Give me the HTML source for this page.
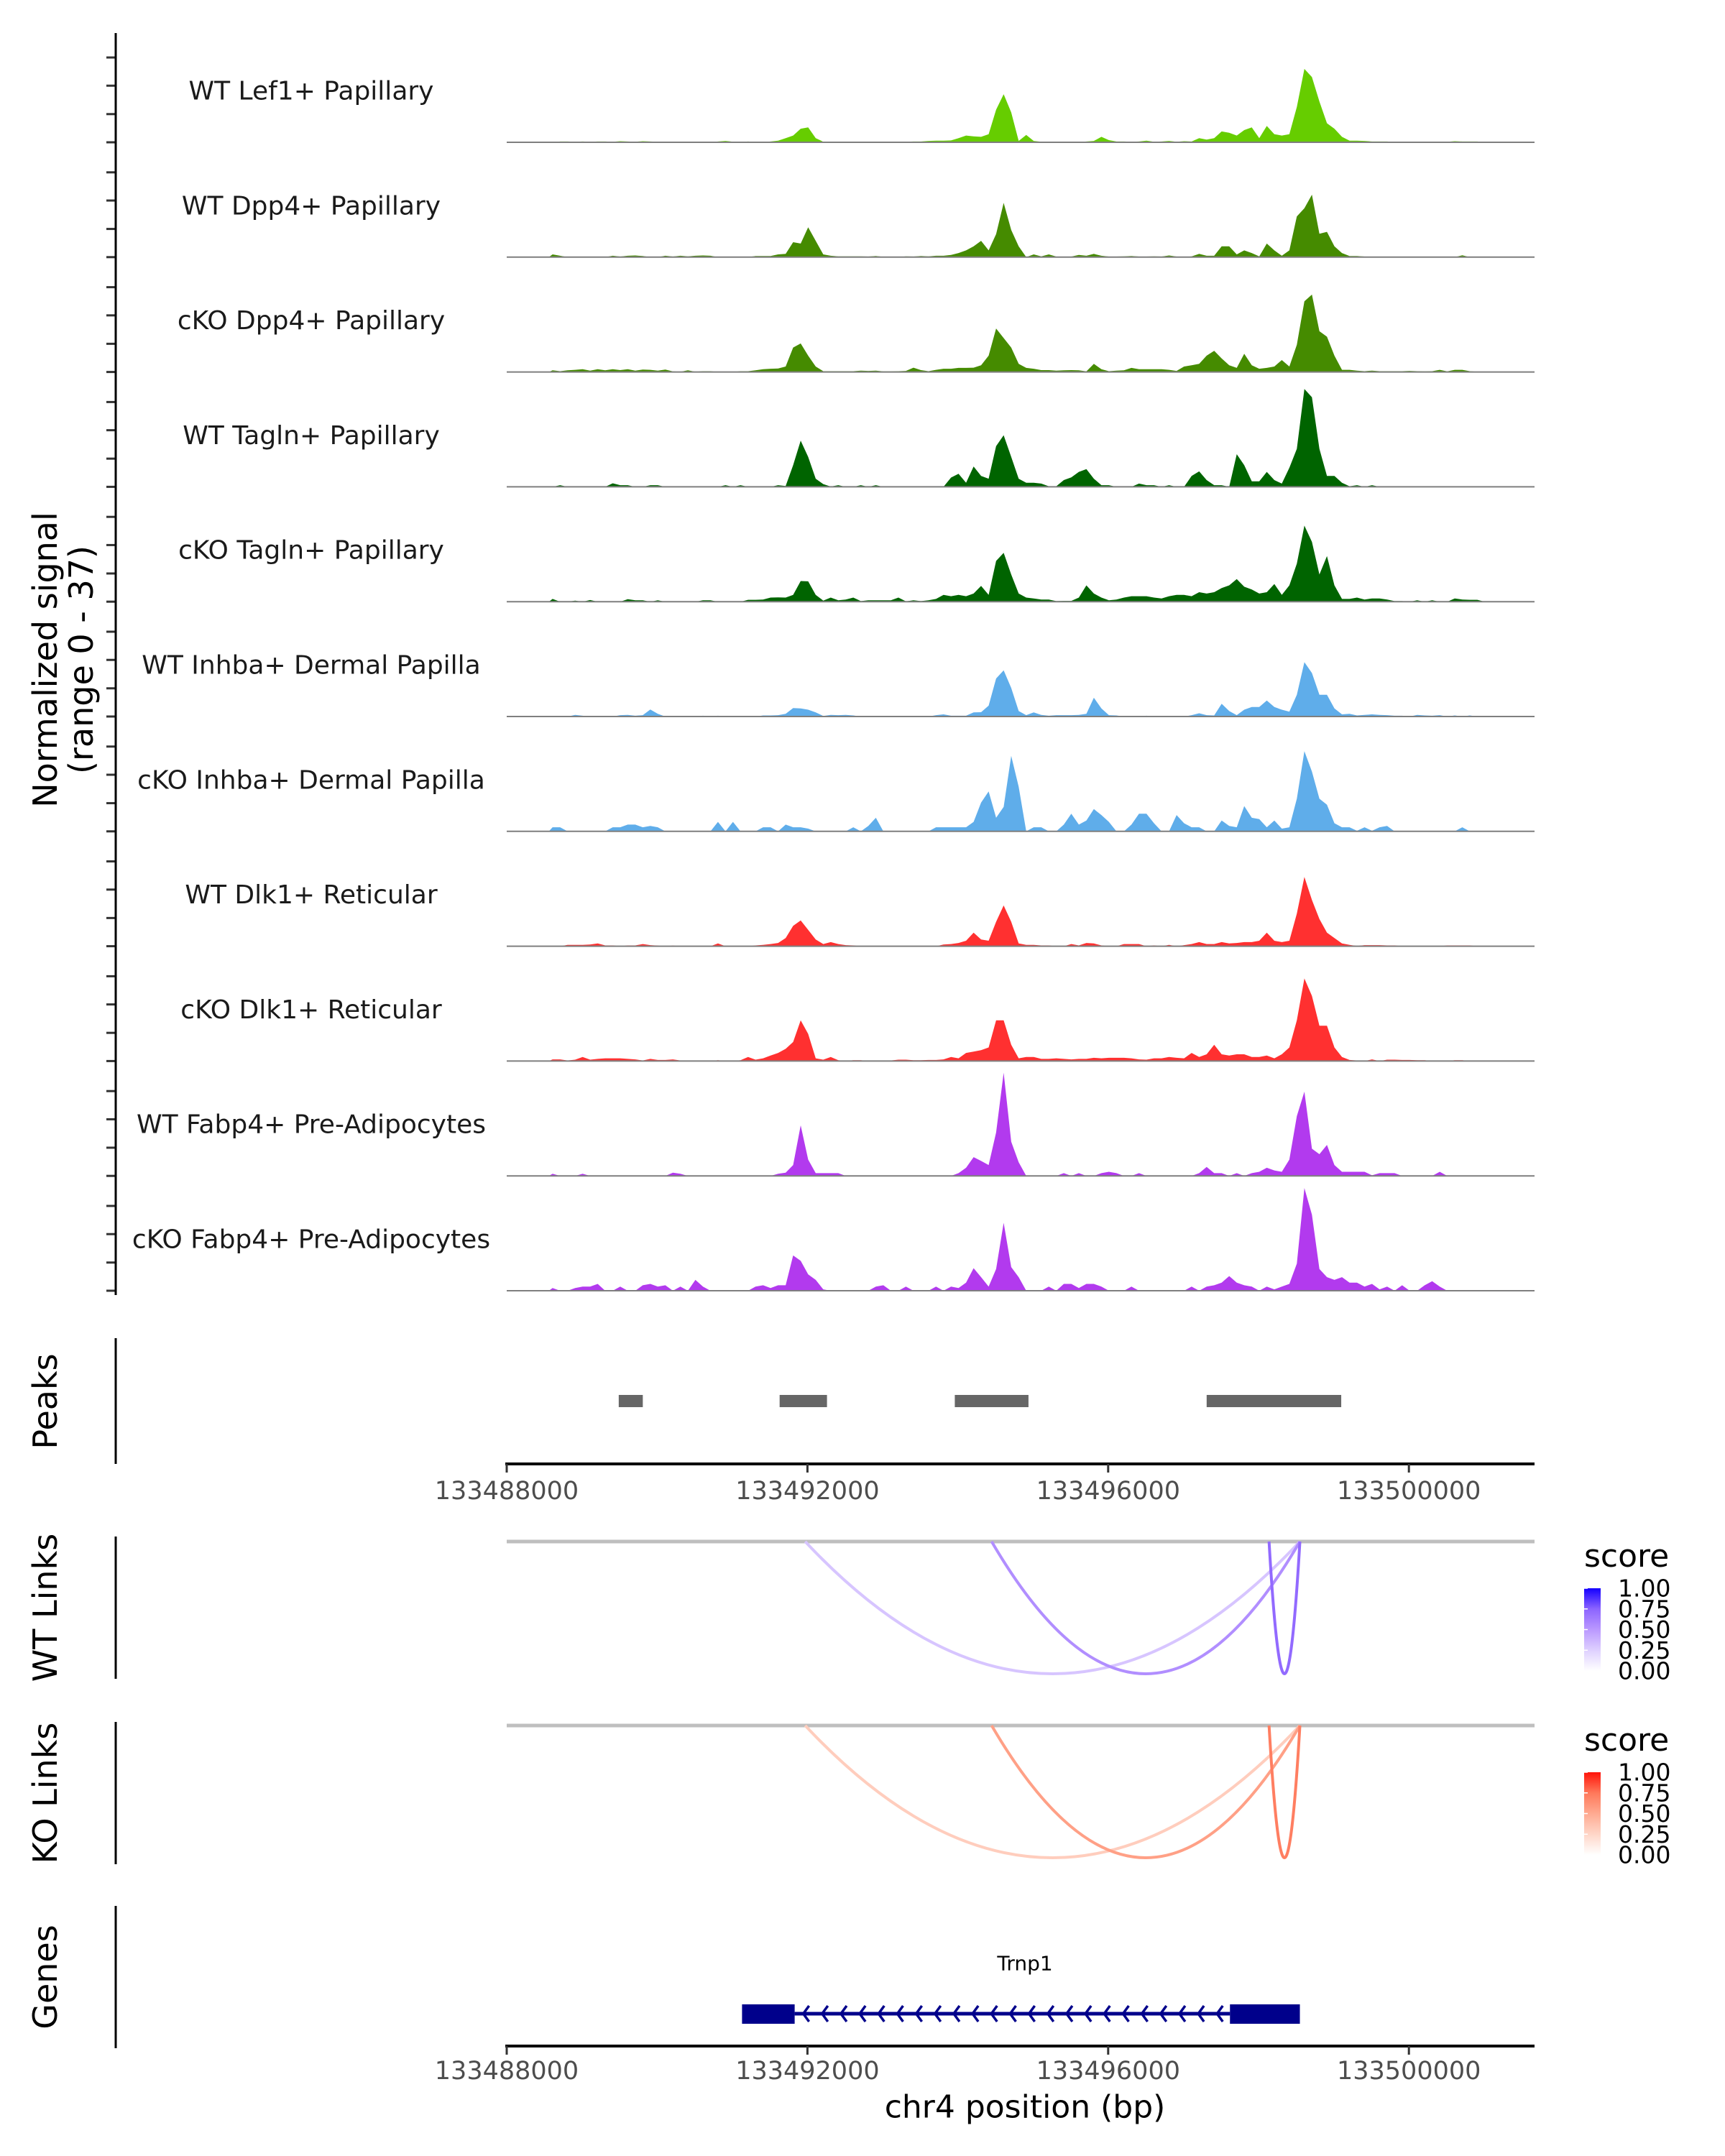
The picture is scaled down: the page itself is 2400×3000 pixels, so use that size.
<!DOCTYPE html>
<html><head><meta charset="utf-8">
<style>
html,body{margin:0;padding:0;background:#fff;}
svg{display:block;font-family:"DejaVu Sans","Liberation Sans",sans-serif;}
</style></head>
<body>
<svg id="chart" width="2400" height="3000" viewBox="0 0 2400 3000" xmlns="http://www.w3.org/2000/svg">
<rect width="2400" height="3000" fill="#fff"/>
<g id="tracks"></g>
<g id="peaks"></g>
<g id="links"></g>
<g id="genes"></g>
<g id="axes"></g>
</svg>
<script>
// ---------- data ----------
var binStart = 133488560;
var binSize = 100;
var trackNames = ["WT Lef1+ Papillary","WT Dpp4+ Papillary","cKO Dpp4+ Papillary","WT Tagln+ Papillary","cKO Tagln+ Papillary","WT Inhba+ Dermal Papilla","cKO Inhba+ Dermal Papilla","WT Dlk1+ Reticular","cKO Dlk1+ Reticular","WT Fabp4+ Pre-Adipocytes","cKO Fabp4+ Pre-Adipocytes"];
var trackColors = ["#66CD00","#458B00","#458B00","#006400","#006400","#5FADEA","#5FADEA","#FF3030","#FF3030","#B23AEE","#B23AEE"];
var sigLef1 = [0,0.3,0.3,0.2,0.3,0.2,0.3,0.3,0.2,0.4,0.3,0.2,0.4,0.3,0.2,0.1,0,0,0,0,0,0,0.3,0.5,0.2,0.1,0.3,0.1,0.1,0.3,0.6,1.5,2.5,5,5.5,1.5,0.2,0.1,0.1,0,0,0,0,0,0,0,0.2,0.2,0.3,0.3,0.5,0.6,0.6,0.7,1.5,2.5,2.2,2,3,12,17.7,11,0.5,2.7,0.5,0.2,0.2,0.1,0.2,0.2,0.1,0.3,0.5,2,0.8,0.3,0.3,0.2,0.3,0.6,0.2,0.3,0.5,0.2,0.4,0.3,1.5,1,1.5,4,3.5,2.5,4.5,5.5,1.5,6,3,2.5,3,13,27,24,15,7,5,2,0.6,0.6,0.5,0.3,0.3,0.3,0.1,0.1,0.1,0.1,0.1,0.1,0.1,0.2,0.4,0.3,0.3,0.3,0];
var sigDpp4WT = [1,0.5,0,0,0,0,0,0,0.5,0.2,0.5,0.6,0.4,0,0,0.5,0.2,0.5,0.3,0.5,0.6,0.5,0,0,0,0,0,0.4,0.4,0.4,1,1.2,5.5,5,11,6,1,0.5,0.3,0.3,0.3,0.3,0.2,0.4,0.1,0,0,0.3,0.2,0.4,0.3,0.5,0.5,0.8,1.5,2.5,4,6,2.5,8.5,20,10,4,0,1,0.3,1,0.2,0.2,0.2,0.8,0.5,1.2,0.5,0.2,0.2,0.3,0.4,0.2,0.2,0.3,0.2,0.6,0.2,0,0.3,1.2,0.5,0.5,4,4,1,2.5,1.5,0.3,5,2.5,0.5,2.5,15,18,23,8.6,9.3,4,1.5,0.4,0.4,0.2,0,0,0,0,0,0,0,0,0,0,0,0,0.7,0,0,0];
var sigDpp4KO = [0.6,0.3,0.6,0.8,1,0.5,1,0.6,1,0.7,1,0.5,0.9,0.8,0.5,0.9,0.2,0.1,0.6,0.1,0.3,0.3,0,0,0,0.3,0.3,0.6,1,1.2,1.3,2,9,10.5,6,2,0.3,0.3,0.3,0.3,0.3,0.5,0.4,0.5,0.2,0.2,0.3,0.4,1.6,0.7,0.3,0.8,1.2,1.2,1.5,1.5,1.6,2.5,6,16,12.5,9,3,1.5,1.2,0.7,0.7,0.5,0.6,0.7,0.6,0.2,3,1,0.3,0.5,0.6,1.5,1,1,1,1,0.8,0.4,2,2.5,3,6,7.8,5,2.5,1.5,6.7,2.5,1.2,1.5,2,4.4,2,10,26,28.5,15,13,6,0.8,0.8,0.5,0.3,0.5,0.3,0.3,0.3,0.3,0.4,0.3,0.2,0.3,0.8,0.2,0.8,0.8,0.3,0.1,0];
var sigTaglnWT = [0,0.6,0,0,0,0,0,0,1.3,0.6,0.6,0,0,0.6,0.6,0,0,0,0,0,0,0,0,0.6,0,0.6,0,0,0,0,0.6,0.3,8,17,11,3,1,0.1,0.6,0,0,0.6,0,0.6,0,0,0,0,0,0,0,0,0,3.4,4.8,1.5,7.5,4,3,15,19,11,3,1.5,1.5,1.2,0.2,0.2,2.5,3.5,5.5,6.5,3,0.6,0.6,0,0,0,1.2,0.6,0.6,0,0.6,0,0,4,5.7,2.5,0.6,0.6,0,12,8,2,2,5.5,2.5,1.2,7,14,36,33,14,4,4,1.5,0.2,0.6,0,0.6,0,0,0,0,0,0,0,0,0,0,0,0,0,0,0,0];
var sigTaglnKO = [1,0,0,0.4,0,0.6,0,0,0,0,0.9,0.5,0.5,0,0.5,0,0,0,0,0,0.5,0.5,0,0,0,0,0.7,0.7,0.8,1.5,1.6,1.5,2.5,7.6,7.5,2.5,0.4,1.5,0.5,0.8,1.5,0.2,0.5,0.5,0.5,0.5,1.5,0.1,0.5,0.2,0.5,1,2.5,2,2.5,2,3,5.8,2.5,15,18,10,3,1.5,1.2,0.8,0.8,0.2,0.3,0.3,1.5,6,3,1.5,0.5,0.8,1.5,2,2,2,1.5,1.2,2,2.5,2.5,2,3.5,3,3.5,5,6,8.3,5.5,4.5,3,3.5,6.5,2.5,6,14,28,22,10,16.8,6,1,1,1.5,0.8,1.2,1.2,0.8,0.2,0.2,0,0.5,0,0.5,0,0,1.2,0.8,0.7,0.7,0];
var sigInhbaWT = [0,0,0,0.6,0.3,0,0,0,0,0.5,0.6,0.3,0.5,2.6,1,0,0,0,0,0,0.3,0,0.3,0,0,0,0,0,0.4,0.4,0.5,1,3.1,3,2.5,1.5,0.2,0.6,0.5,0.6,0.4,0,0,0,0,0,0,0,0,0,0,0.5,0.8,0.3,0.3,0.3,1.5,1.6,4,14,17,10.5,2,0.5,1.5,0.6,0.3,0.5,0.5,0.5,0.6,1,6.9,3,0.5,0.4,0,0,0,0.3,0,0,0,0,0,0.5,1.2,0.5,0.4,4.7,2,0.5,2.5,3.5,3.5,5.9,3.5,2.5,1.8,8,20,16,8,8,3,0.8,1,0.4,0.6,0.8,0.6,0.5,0.3,0.3,0,0.6,0.4,0.3,0.5,0,0.4,0,0.4,0,0];
var sigInhbaKO = [1.5,1.5,0,0,0,0,0,0,1.5,1.5,2.5,2.5,1.5,2,1.5,0,0,0,0,0,0,0,3.5,0,3.5,0,0,0,1.5,1.5,0,2.5,1.5,1.5,1,0,0,0,0,0,1.5,0,2,5,0,0,0,0,0,0,0,1.5,1.5,1.5,1.5,1.5,3.5,10.6,14.7,5,9,27.8,16.4,0,1.5,1.5,0,0,2.5,6.5,2.5,4,8.2,6,3.5,0,0,2.5,6.5,6.5,3,0,0,6,3,1.5,1.5,0,0,4,2,1.5,9.3,5,4.5,1.5,4,1,1.5,12,29.5,22,12,9.8,3,1.5,1.5,0.2,1.5,0.2,1.5,2,0,0,0,0,0,0,0,0,0,1.5,0,0,0];
var sigDlk1WT = [0,0,0.5,0.5,0.5,0.6,1,0.3,0.3,0,0.3,0.3,0.8,0.4,0.2,0,0.2,0,0,0,0,0,1,0,0,0,0,0.3,0.5,0.8,1.2,3,7.5,9.5,6,2.5,0.8,1.5,0.8,0.4,0.3,0,0,0,0,0,0,0,0,0,0,0,0.6,0.8,1.2,2,5,2.5,2,9,15,9,1,0.5,0.5,0.3,0.3,0,0,0.8,0.3,1.2,1,0.3,0,0,0.8,0.8,0.8,0,0.3,0,0.5,0,0.4,0.8,1.5,0.8,0.8,1.5,1,1.2,1.5,1.5,2,5,2,1.5,2,12,25.5,17,10,5,3,1,0.5,0.1,0.4,0.4,0.4,0.3,0.3,0,0,0,0,0,0,0.3,0.3,0.3,0.3,0,0];
var sigDlk1KO = [0.6,0.6,0.2,0.5,1.5,0.5,0.8,1,1,1,0.8,0.6,0.2,0.8,0.4,0.4,0.6,0.2,0.2,0,0,0,0.3,0,0,0.3,1.5,0.5,1,2,3,4.5,7,15,10,1,0.5,1.5,0.3,0,0.3,0.3,0,0,0,0.2,0.5,0.5,0.3,0.3,0.4,0.4,0.6,1.5,1,3,3.5,4,5,15,15,6,1,1.5,1.5,0.8,0.8,1,0.8,0.6,0.8,0.8,1.2,1,1.2,1.2,1.2,1,0.6,0.5,1,1,1.5,1.2,1,3,1.5,2.5,6,2.5,2,2.5,2.5,1.5,1.5,2,1,2.5,5,15,30.4,24,13,13,5,1.5,0.4,0.2,0,0.6,0,0.5,0.5,0.4,0.4,0.3,0.3,0,0,0,0.3,0.3,0,0,0];
var sigFabp4WT = [0.8,0,0,0,0.8,0,0,0,0,0,0,0,0,0,0,0,1.2,0.8,0,0,0,0,0,0,0,0,0,0,0,0,0.8,1.2,4,18.6,6,1,1,1,1,0,0,0,0,0,0,0,0,0,0,0,0,0,0,0,1,3,6.9,5.5,4,16,38,12.6,5,0,0,0,0,0,1,0,1,0,0,1,1.5,1,0,0,1,0,0,0,0,0,0,0,1,3.3,1,1,0,1,0,1,1.5,3,2,1.5,6,22,31,10,8,11.4,4,1.5,1.5,1.5,1.5,0.2,1,1,1,0,0,0,0,0,1.5,0,0,0,0,0,0];
var sigFabp4KO = [1,0,0,1,1.5,1.5,2.5,0,0,1.5,0,0,2,2.5,1.5,2,0,1.5,0,4,1.5,0,0,0,0,0,0,1.5,2,1,2,2,13,11,6,4,0.5,0,0,0,0,0,0,1.5,2,0,0,1.5,0,0,0,1.5,0,1.5,1,3,8.3,5,1.5,8,25,8.7,5,0,0,0,1.5,0,2.5,2.5,1,2.5,2.5,1.5,0,0,0,1.5,0,0,0,0,0,0,0,1.5,0,1.5,2,3,5.4,3,2,1.5,0,1.5,0.5,1.5,2.5,10,37.8,28,8,5,4,5,3,3,1.5,2.5,0.5,1.5,0,2,0,0,2,3.5,1.5,0,0,0,0,0,0];
var signals = [sigLef1,sigDpp4WT,sigDpp4KO,sigTaglnWT,sigTaglnKO,sigInhbaWT,sigInhbaKO,sigDlk1WT,sigDlk1KO,sigFabp4WT,sigFabp4KO];
var yTickValues = [0, 12.3, 24.7, 37];
var xTickValues = [133488000, 133492000, 133496000, 133500000];
var xTickLabels = ["133488000","133492000","133496000","133500000"];
var peakStarts = [133489490, 133491630, 133493960, 133497310];
var peakEnds = [133489810, 133492260, 133494940, 133499100];
var linkStarts = [133491970, 133494450, 133498140];
var linkEnds = [133498550, 133498550, 133498550];
var wtLinkScores = [0.3, 0.55, 0.72];
var koLinkScores = [0.3, 0.55, 0.72];
var legendTicks = [1.00, 0.75, 0.50, 0.25, 0.00];
var legendTickLabels = ["1.00","0.75","0.50","0.25","0.00"];
var geneName = "Trnp1";
var geneStart = 133491130;
var geneEnd = 133498550;
var utrLeftEnd = 133491830;
var utrRightStart = 133497620;

// ---------- scales ----------
var NS = "http://www.w3.org/2000/svg";
var X0 = 705, X1 = 2135, BP0 = 133488000, PXBP = 0.1046;
function xs(bp){ return X0 + (bp - BP0) * PXBP; }
function baseY(i){ return 198 + 159.8 * i; }
function ys(i, v){ return baseY(i) - v * 3.78; }
function mk(tag, attrs, parent){
  var e = document.createElementNS(NS, tag);
  for (var k in attrs) e.setAttribute(k, attrs[k]);
  parent.appendChild(e);
  return e;
}
function txt(parent, s, attrs){
  var t = mk("text", attrs, parent);
  t.textContent = s;
  return t;
}
var gT = document.getElementById("tracks");
var gP = document.getElementById("peaks");
var gL = document.getElementById("links");
var gG = document.getElementById("genes");
var gA = document.getElementById("axes");

// ---------- coverage tracks ----------
for (var i = 0; i < signals.length; i++){
  var s = signals[i];
  var b = baseY(i);
  var d = "M" + xs(binStart).toFixed(1) + "," + b.toFixed(1);
  for (var j = 0; j < s.length; j++){
    var cx = xs(binStart + binSize * j + binSize / 2);
    d += " L" + cx.toFixed(1) + "," + ys(i, s[j]).toFixed(1);
  }
  d += " L" + xs(binStart + binSize * s.length).toFixed(1) + "," + b.toFixed(1) + " Z";
  var area = mk("path", {d: d, fill: trackColors[i], stroke: "none"}, gT);
  
  
  var bl = mk("line", {x1: X0, x2: X1, y1: b, y2: b, stroke: "#7f7f7f", "stroke-width": 2}, gT);
  
  
  var lab = txt(gT, trackNames[i], {x: 433, y: b - 71, "font-size": 36, fill: "#1a1a1a", "text-anchor": "middle", "dominant-baseline": "central"});
  
  
  for (var k = 0; k < yTickValues.length; k++){
    var ty = b - yTickValues[k] * 118 / 37;
    var tk = mk("line", {x1: 148, x2: 160, y1: ty, y2: ty, stroke: "#333", "stroke-width": 3}, gA);
    
    
  }
}
var yAxis = mk("line", {x1: 161, x2: 161, y1: 46, y2: 1802, stroke: "#000", "stroke-width": 3}, gA);


var yt1 = txt(gA, "Normalized signal", {x: 0, y: 0, "font-size": 46, fill: "#000", "text-anchor": "middle", "dominant-baseline": "central", transform: "translate(63,918) rotate(-90)"});


var yt2 = txt(gA, "(range 0 - 37)", {x: 0, y: 0, "font-size": 46, fill: "#000", "text-anchor": "middle", "dominant-baseline": "central", transform: "translate(113,918) rotate(-90)"});



// ---------- side panels ----------
var panels = [["Peaks",1862,2037,1950],["WT Links",2138,2336,2237],["KO Links",2396,2594,2495],["Genes",2652,2850,2751]];
for (var p = 0; p < panels.length; p++){
  var ax = mk("line", {x1: 161, x2: 161, y1: panels[p][1], y2: panels[p][2], stroke: "#000", "stroke-width": 3}, gA);
  
  
  var pt = txt(gA, panels[p][0], {x: 0, y: 0, "font-size": 46, fill: "#000", "text-anchor": "middle", "dominant-baseline": "central", transform: "translate(63," + panels[p][3] + ") rotate(-90)"});
  
  
}

// ---------- peaks ----------
for (var q = 0; q < peakStarts.length; q++){
  var r = mk("rect", {x: xs(peakStarts[q]), y: 1941, width: xs(peakEnds[q]) - xs(peakStarts[q]), height: 17, fill: "#666666"}, gP);
  
  
}

// ---------- x axes ----------
function xAxis(y, labelY){
  var l = mk("line", {x1: X0 - 2, x2: X1, y1: y, y2: y, stroke: "#000", "stroke-width": 4}, gA);
  
  
  for (var t = 0; t < xTickValues.length; t++){
    var tx = xs(xTickValues[t]);
    var tk = mk("line", {x1: tx, x2: tx, y1: y, y2: y + 12, stroke: "#333", "stroke-width": 3}, gA);
    
    
    var tl = txt(gA, xTickLabels[t], {x: tx, y: labelY, "font-size": 35, fill: "#4d4d4d", "text-anchor": "middle", "dominant-baseline": "central"});
    
    
  }
}
xAxis(2037, 2075);
xAxis(2847, 2882);
var xt = txt(gA, "chr4 position (bp)", {x: 1426, y: 2932, "font-size": 44, fill: "#000", "text-anchor": "middle", "dominant-baseline": "central"});



// ---------- links ----------
function lerpColor(stops, v){
  var n = stops.length - 1;
  var pos = Math.max(0, Math.min(1, v)) * n;
  var a = Math.min(Math.floor(pos), n - 1), f = pos - a;
  var c1 = stops[a], c2 = stops[a + 1];
  var c = [0,1,2].map(function(z){ return Math.round(c1[z] + (c2[z] - c1[z]) * f); });
  return "rgb(" + c.join(",") + ")";
}
var blueStops = [[255,255,255],[222,208,255],[186,152,255],[140,100,255],[20,0,255]];
var redStops = [[255,255,255],[255,214,200],[255,170,145],[255,120,90],[255,20,10]];
function linkPanel(top, scores, stops, name){
  var gl = mk("line", {x1: X0, x2: X1, y1: top, y2: top, stroke: "#bfbfbf", "stroke-width": 5}, gL);
  
  
  var h = 184;
  for (var a = 0; a < linkStarts.length; a++){
    var x1 = xs(linkStarts[a]), x2 = xs(linkEnds[a]);
    var mx = (x1 + x2) / 2, cy = top + 2 * h;
    var pth = mk("path", {d: "M" + x1 + "," + top + " Q" + mx + "," + cy + " " + x2 + "," + top, fill: "none", stroke: lerpColor(stops, scores[a]), "stroke-width": 4}, gL);
    
    
  }
}
linkPanel(2145, wtLinkScores, blueStops, "wt-link");
linkPanel(2401, koLinkScores, redStops, "ko-link");

// ---------- legends ----------
var defs = mk("defs", {}, document.getElementById("chart"));
function gradient(id, stops){
  var g = mk("linearGradient", {id: id, x1: 0, y1: 1, x2: 0, y2: 0}, defs);
  for (var s2 = 0; s2 < stops.length; s2++){
    mk("stop", {offset: s2 / (stops.length - 1), "stop-color": "rgb(" + stops[s2].join(",") + ")"}, g);
  }
}
gradient("gblue", blueStops);
gradient("gred", redStops);
function legend(top, grad, name){
  var lt = txt(gA, "score", {x: 2204, y: top + 35, "font-size": 44, fill: "#000"});
  
  
  var bar = mk("rect", {x: 2204, y: top + 65, width: 23, height: 115, fill: "url(#" + grad + ")"}, gA);
  
  
  for (var t = 0; t < legendTicks.length; t++){
    var ty = top + 65 + (1 - legendTicks[t]) * 115;
    var tm = mk("line", {x1: 2204, x2: 2209, y1: ty, y2: ty, stroke: "#fff", "stroke-width": 1.5}, gA);
    
    
    var tl = txt(gA, legendTickLabels[t], {x: 2251, y: ty, "font-size": 33, fill: "#000", "dominant-baseline": "central"});
    
    
  }
}
legend(2145, "gblue", "wt-legend");
legend(2401, "gred", "ko-legend");

// ---------- gene ----------
var gy = 2802;
var gl2 = mk("line", {x1: xs(utrLeftEnd), x2: xs(utrRightStart), y1: gy, y2: gy, stroke: "#00008B", "stroke-width": 5}, gG);


var nChev = 23;
for (var c = 0; c < nChev; c++){
  var cxp = xs(utrLeftEnd) + 12 + c * (xs(utrRightStart) - xs(utrLeftEnd) - 30) / (nChev - 1);
  var ch = mk("polyline", {points: (cxp + 8) + "," + (gy - 11) + " " + cxp + "," + gy + " " + (cxp + 8) + "," + (gy + 11), fill: "none", stroke: "#00008B", "stroke-width": 3.5}, gG);
  
  
}
var ex1 = mk("rect", {x: xs(geneStart), y: 2789, width: xs(utrLeftEnd) - xs(geneStart), height: 27, fill: "#00008B"}, gG);


var ex2 = mk("rect", {x: xs(utrRightStart), y: 2789, width: xs(geneEnd) - xs(utrRightStart), height: 27, fill: "#00008B"}, gG);


var gn = txt(gG, geneName, {x: 1426, y: 2732, "font-size": 28, fill: "#000", "text-anchor": "middle", "dominant-baseline": "central"});


</script>
</body></html>
